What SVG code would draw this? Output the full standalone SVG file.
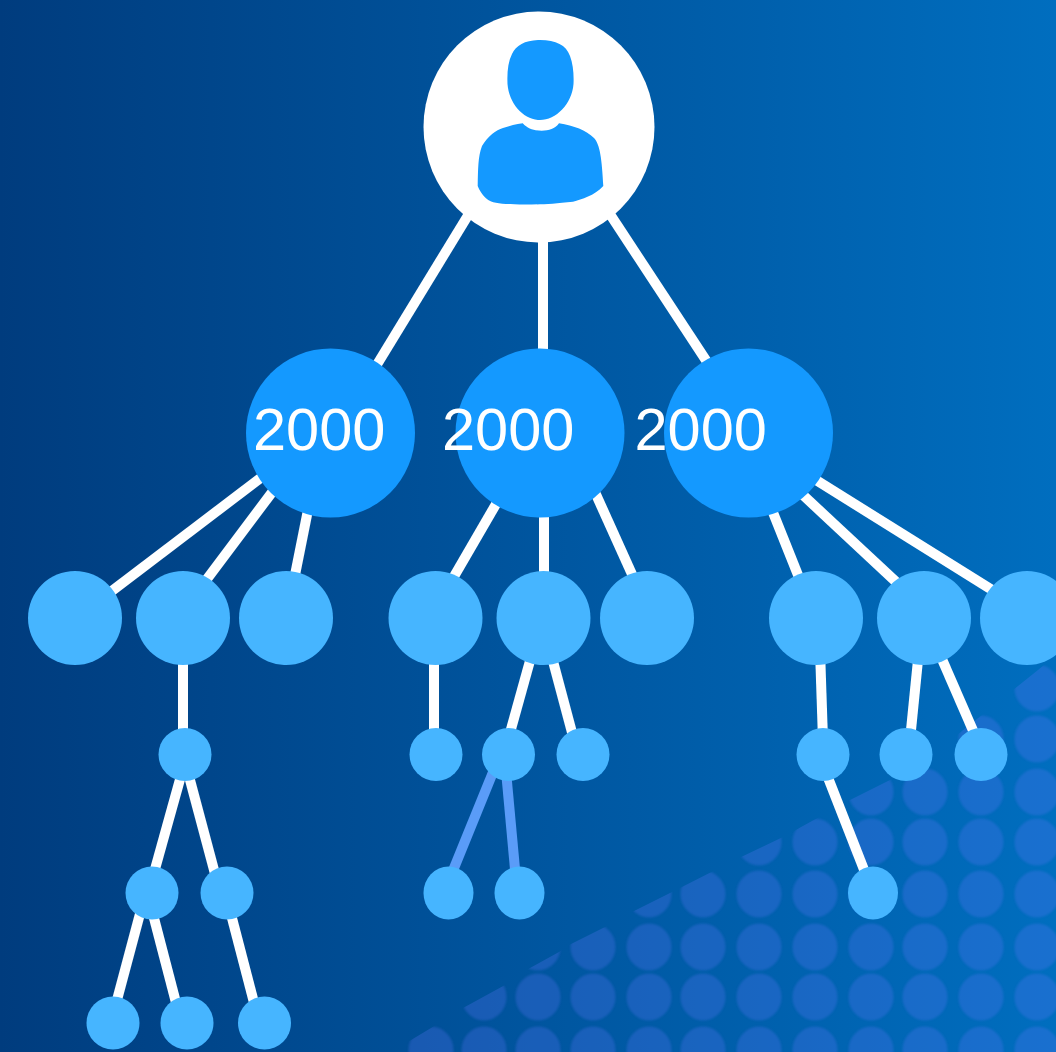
<svg xmlns="http://www.w3.org/2000/svg" xmlns:xlink="http://www.w3.org/1999/xlink" width="1056" height="1052" viewBox="0 0 1056 1052">
<style>
.e{stroke:#fff;stroke-width:10;fill:none}
.b{stroke:#5a9cf8}
.root{fill:#fff}
.icon{fill:#1499ff}
.l2{fill:#1499ff}
.l3,.l4,.l5,.l6{fill:#46b5ff}
.t{font-family:"Liberation Sans",Arial,sans-serif;font-size:59.5px;fill:#fff}
</style>
<defs>
<linearGradient id="bg" x1="0" y1="0" x2="1" y2="0"><stop offset="0" stop-color="#003c7e"/><stop offset="1" stop-color="#006ebf"/></linearGradient>
<clipPath id="cut"><polygon points="400,1052 406,1043 431,1028 463,1008 505,985 530,968 559,952 569,945 605,927 632,912 672,892 739,858 783,837 850,800 894,778 910,765 947,743 1013,690 1038,670 1056,655 1056,1052"/></clipPath>
<filter id="soft" x="-5%" y="-5%" width="110%" height="110%"><feGaussianBlur stdDeviation="1.200"/></filter>
<ellipse id="d" rx="22.500" ry="23.500" fill="#6473ff" fill-opacity="0.26"/>
</defs>
<rect width="1056" height="1052" fill="url(#bg)"/>
<g id="dots" clip-path="url(#cut)"><g filter="url(#soft)">
<use xlink:href="#d" x="1037" y="688"/>
<use xlink:href="#d" x="981" y="739"/><use xlink:href="#d" x="1037" y="739"/>
<use xlink:href="#d" x="871" y="792"/><use xlink:href="#d" x="925" y="792"/><use xlink:href="#d" x="981" y="792"/><use xlink:href="#d" x="1037" y="792"/>
<use xlink:href="#d" x="759" y="842"/><use xlink:href="#d" x="815" y="842"/><use xlink:href="#d" x="871" y="842"/><use xlink:href="#d" x="925" y="842"/><use xlink:href="#d" x="981" y="842"/><use xlink:href="#d" x="1037" y="842"/>
<use xlink:href="#d" x="649" y="894"/><use xlink:href="#d" x="703" y="894"/><use xlink:href="#d" x="759" y="894"/><use xlink:href="#d" x="815" y="894"/><use xlink:href="#d" x="871" y="894"/><use xlink:href="#d" x="925" y="894"/><use xlink:href="#d" x="981" y="894"/><use xlink:href="#d" x="1037" y="894"/>
<use xlink:href="#d" x="538" y="947"/><use xlink:href="#d" x="593" y="947"/><use xlink:href="#d" x="649" y="947"/><use xlink:href="#d" x="703" y="947"/><use xlink:href="#d" x="759" y="947"/><use xlink:href="#d" x="815" y="947"/><use xlink:href="#d" x="871" y="947"/><use xlink:href="#d" x="925" y="947"/><use xlink:href="#d" x="981" y="947"/><use xlink:href="#d" x="1037" y="947"/>
<use xlink:href="#d" x="484" y="997"/><use xlink:href="#d" x="538" y="997"/><use xlink:href="#d" x="593" y="997"/><use xlink:href="#d" x="649" y="997"/><use xlink:href="#d" x="703" y="997"/><use xlink:href="#d" x="759" y="997"/><use xlink:href="#d" x="815" y="997"/><use xlink:href="#d" x="871" y="997"/><use xlink:href="#d" x="925" y="997"/><use xlink:href="#d" x="981" y="997"/><use xlink:href="#d" x="1037" y="997"/>
<use xlink:href="#d" x="431" y="1050"/><use xlink:href="#d" x="484" y="1050"/><use xlink:href="#d" x="538" y="1050"/><use xlink:href="#d" x="593" y="1050"/><use xlink:href="#d" x="649" y="1050"/><use xlink:href="#d" x="703" y="1050"/><use xlink:href="#d" x="759" y="1050"/><use xlink:href="#d" x="815" y="1050"/><use xlink:href="#d" x="871" y="1050"/><use xlink:href="#d" x="925" y="1050"/><use xlink:href="#d" x="981" y="1050"/><use xlink:href="#d" x="1037" y="1050"/>
</g></g>
<g id="connectors">
<line class="e" x1="478" y1="199" x2="370" y2="376"/>
<line class="e" x1="543" y1="230" x2="543" y2="360"/>
<line class="e" x1="600" y1="199" x2="715" y2="374"/>
<line class="e" x1="275" y1="467" x2="100" y2="600"/>
<line class="e" x1="285" y1="475" x2="198" y2="591"/>
<line class="e" x1="312" y1="490" x2="290" y2="600"/>
<line class="e" x1="510" y1="480" x2="445" y2="592"/>
<line class="e" x1="544" y1="500" x2="544" y2="590"/>
<line class="e" x1="585" y1="470" x2="640" y2="592"/>
<line class="e" x1="760" y1="480" x2="808" y2="600"/>
<line class="e" x1="790" y1="483" x2="908" y2="593"/>
<line class="e" x1="800" y1="470" x2="1005" y2="598"/>
<line class="e" x1="183" y1="650" x2="183" y2="740"/>
<line class="e" x1="434" y1="650" x2="434" y2="740"/>
<line class="e" x1="533" y1="650" x2="508" y2="740"/>
<line class="e" x1="550" y1="650" x2="574" y2="740"/>
<line class="e" x1="820" y1="650" x2="823" y2="740"/>
<line class="e" x1="919" y1="650" x2="910" y2="740"/>
<line class="e" x1="938" y1="650" x2="978" y2="742"/>
<line class="e" x1="184" y1="765" x2="152" y2="880"/>
<line class="e" x1="186" y1="765" x2="218" y2="885"/>
<line class="e b" x1="500" y1="755" x2="450" y2="878"/>
<line class="e b" x1="505" y1="760" x2="516" y2="880"/>
<line class="e" x1="825" y1="770" x2="870" y2="885"/>
<line class="e" x1="145" y1="895" x2="113" y2="1015"/>
<line class="e" x1="148" y1="895" x2="180" y2="1018"/>
<line class="e" x1="226" y1="895" x2="258" y2="1018"/>
</g>
<g id="root"><circle class="root" cx="539" cy="127" r="115.500"/>
<path class="icon" d="M540 40C556 40 566 45 570 56C573 64 574 74 573.500 84C572 104 556 120 540 120C524 120 509 104 507.500 84C507 72 508 62 512 54C516 45 526 40 540 40Z"/>
<path class="icon" d="M522.700 123.300C528 129 534 130.700 541.700 130.700C549 130.700 555 129 559 123.300C574 126 586 130 594 138C600 144 602 160 603.300 186C594 196 582 199 573 201.700C552 204 540 204.500 525 204.500C510 204.500 500 204 493.300 202.300C486 200 481 194 477.700 186C478 170 478 156 482 146C488 136 496 130 503 128C510 126 516 124 522.700 123.300Z"/></g>
<g id="n2a"><circle class="l2" cx="330.500" cy="433" r="84.500"/><text class="t" x="253" y="450">2000</text></g>
<g id="n2b"><circle class="l2" cx="540" cy="433" r="84.500"/><text class="t" x="442" y="450">2000</text></g>
<g id="n2c"><circle class="l2" cx="748.500" cy="433" r="84.500"/><text class="t" x="634.500" y="450">2000</text></g>
<g id="n3a"><circle class="l3" cx="75" cy="618" r="47"/></g>
<g id="n3b"><circle class="l3" cx="183" cy="618" r="47"/></g>
<g id="n3c"><circle class="l3" cx="286" cy="618" r="47"/></g>
<g id="n3d"><circle class="l3" cx="435.500" cy="618" r="47"/></g>
<g id="n3e"><circle class="l3" cx="543.500" cy="618" r="47"/></g>
<g id="n3f"><circle class="l3" cx="647" cy="618" r="47"/></g>
<g id="n3g"><circle class="l3" cx="816" cy="618" r="47"/></g>
<g id="n3h"><circle class="l3" cx="924" cy="618" r="47"/></g>
<g id="n3i"><circle class="l3" cx="1027" cy="618" r="47"/></g>
<g id="n4a"><circle class="l4" cx="185" cy="754.500" r="26.500"/></g>
<g id="n4b"><circle class="l4" cx="436" cy="754.500" r="26.500"/></g>
<g id="n4c"><circle class="l4" cx="508.500" cy="754.500" r="26.500"/></g>
<g id="n4d"><circle class="l4" cx="583" cy="754.500" r="26.500"/></g>
<g id="n4e"><circle class="l4" cx="823" cy="754.500" r="26.500"/></g>
<g id="n4f"><circle class="l4" cx="906" cy="754.500" r="26.500"/></g>
<g id="n4g"><circle class="l4" cx="981" cy="754.500" r="26.500"/></g>
<g id="n5a"><circle class="l5" cx="152" cy="893" r="26.500"/></g>
<g id="n5b"><circle class="l5" cx="227" cy="893" r="26.500"/></g>
<g id="n5c"><ellipse class="l5" cx="448.500" cy="893" rx="25" ry="26.500"/></g>
<g id="n5d"><ellipse class="l5" cx="519.500" cy="893" rx="25" ry="26.500"/></g>
<g id="n5e"><ellipse class="l5" cx="873" cy="893" rx="25" ry="26.500"/></g>
<g id="n6a"><circle class="l6" cx="113" cy="1023" r="26.500"/></g>
<g id="n6b"><circle class="l6" cx="187" cy="1023" r="26.500"/></g>
<g id="n6c"><circle class="l6" cx="264.500" cy="1023" r="26.500"/></g>
</svg>
